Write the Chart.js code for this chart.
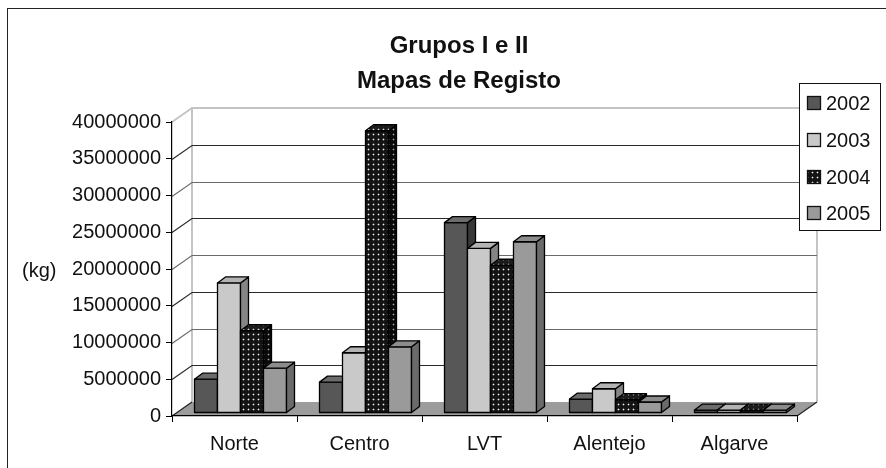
<!DOCTYPE html>
<html>
<head>
<meta charset="utf-8">
<script src="https://cdn.jsdelivr.net/npm/chart.js@4.4.1/dist/chart.umd.min.js"></script>
<style>
  html, body { margin: 0; padding: 0; background: #fff; overflow: hidden; }
  #caixa { width: 886px; height: 468px; position: relative; }
</style>
</head>
<body>
<div id="caixa"><canvas id="grafico" width="886" height="468"></canvas></div>
<script>
const categorias = ['Norte', 'Centro', 'LVT', 'Alentejo', 'Algarve'];
const anos = ['2002', '2003', '2004', '2005'];
const valores2002 = [4600000, 4200000, 25900000, 1900000, 400000];
const valores2003 = [17700000, 8200000, 22400000, 3300000, 400000];
const valores2004 = [11200000, 38400000, 20100000, 1800000, 400000];
const valores2005 = [6100000, 9000000, 23300000, 1500000, 400000];
const ticksY = [0, 5000000, 10000000, 15000000, 20000000, 25000000, 30000000, 35000000, 40000000];
const titulo = ['Grupos I e II', 'Mapas de Registo'];
const unidade = '(kg)';

const fonte = "'Liberation Sans', Arial, sans-serif";
const PX = 20, PY = -14;   // profundidade da parede
const BX = 8, BY = -6;     // profundidade das barras

const ctxBase = document.getElementById('grafico').getContext('2d');

// padrão pontilhado da série 2004
function padraoPontos(fundo, ponto, meio) {
    const c = document.createElement('canvas');
    c.width = 5; c.height = 5;
    const g = c.getContext('2d');
    g.fillStyle = fundo; g.fillRect(0, 0, 5, 5);
    g.fillStyle = meio;
    g.fillRect(1, 2, 3, 1);
    g.fillRect(2, 1, 1, 3);
    g.fillStyle = ponto; g.fillRect(2, 2, 1, 1);
    return ctxBase.createPattern(c, 'repeat');
}

const cores = [
    { frente: '#575757', topo: '#6c6c6c', lado: '#383838' },
    { frente: '#c9c9c9', topo: '#b3b3b3', lado: '#858585' },
    { frente: padraoPontos('#141414', '#f0f0f0', '#5a5a5a'), topo: padraoPontos('#1c1c1c', '#e0e0e0', '#555'), lado: padraoPontos('#0a0a0a', '#a0a0a0', '#3a3a3a') },
    { frente: '#9a9a9a', topo: '#8c8c8c', lado: '#6a6a6a' }
];
const series = [valores2002, valores2003, valores2004, valores2005];

function caixa3d(ctx, x0, x1, yTopo, yBase, c) {
    ctx.lineWidth = 1.3;
    ctx.strokeStyle = '#000';
    ctx.lineJoin = 'round';
    // frente
    ctx.fillStyle = c.frente;
    ctx.beginPath();
    ctx.rect(x0, yTopo, x1 - x0, yBase - yTopo);
    ctx.fill(); ctx.stroke();
    // lado
    ctx.fillStyle = c.lado;
    ctx.beginPath();
    ctx.moveTo(x1, yTopo); ctx.lineTo(x1 + BX, yTopo + BY);
    ctx.lineTo(x1 + BX, yBase + BY); ctx.lineTo(x1, yBase);
    ctx.closePath(); ctx.fill(); ctx.stroke();
    // topo
    ctx.fillStyle = c.topo;
    ctx.beginPath();
    ctx.moveTo(x0, yTopo); ctx.lineTo(x0 + BX, yTopo + BY);
    ctx.lineTo(x1 + BX, yTopo + BY); ctx.lineTo(x1, yTopo);
    ctx.closePath(); ctx.fill(); ctx.stroke();
}

const plugin3d = {
    id: 'efeito3d',
    beforeDraw(chart) {
        const ctx = chart.ctx;
        const a = chart.chartArea;
        const y = chart.scales.y;
        ctx.save();
        // moldura
        ctx.strokeStyle = '#222';
        ctx.lineWidth = 1;
        ctx.strokeRect(7.5, 8.5, 950, 600);
        // título
        ctx.fillStyle = '#111';
        ctx.font = 'bold 24px ' + fonte;
        ctx.textAlign = 'center';
        ctx.textBaseline = 'alphabetic';
        ctx.fillText(titulo[0], 459, 53);
        ctx.fillText(titulo[1], 459, 88);
        // unidade
        ctx.font = '20px ' + fonte;
        ctx.textAlign = 'left';
        ctx.textBaseline = 'middle';
        ctx.fillText(unidade, 22, 271);

        // parede do fundo
        const topo = y.getPixelForValue(ticksY[ticksY.length - 1]);
        const base = y.getPixelForValue(0);
        ctx.strokeStyle = '#c4c4c4';
        ctx.lineWidth = 2;
        ctx.beginPath();
        ctx.moveTo(a.left + PX, base + PY);
        ctx.lineTo(a.left + PX, topo + PY);
        ctx.lineTo(a.right + PX, topo + PY);
        ctx.lineTo(a.right + PX, base + PY);
        ctx.moveTo(a.left, topo);
        ctx.lineTo(a.left + PX, topo + PY);
        ctx.stroke();
        // grelha
        ctx.lineWidth = 1.2;
        ticksY.slice(1, -1).forEach((v, i) => {
            const py = Math.round(y.getPixelForValue(v) + PY) + 0.5;
            ctx.strokeStyle = i % 2 ? '#6a6a6a' : '#2a2a2a';
            ctx.beginPath();
            ctx.moveTo(a.left, py - PY);
            ctx.lineTo(a.left + PX, py);
            ctx.lineTo(a.right + PX, py);
            ctx.stroke();
        });
        // chão
        ctx.fillStyle = '#9c9c9c';
        ctx.strokeStyle = '#222';
        ctx.lineWidth = 1.2;
        ctx.beginPath();
        ctx.moveTo(a.left, base);
        ctx.lineTo(a.left + PX, base + PY);
        ctx.lineTo(a.right + PX, base + PY);
        ctx.lineTo(a.right, base);
        ctx.closePath();
        ctx.fill();
        ctx.beginPath();
        ctx.moveTo(a.left, base);
        ctx.lineTo(a.left + PX, base + PY);
        ctx.moveTo(a.right, base);
        ctx.lineTo(a.right + PX, base + PY);
        ctx.stroke();
        ctx.restore();
    },
    beforeDatasetsDraw(chart) {
        chart.ctx.save();
        chart.ctx.translate(6, -3);
    },
    afterDatasetsDraw(chart) {
        const ctx = chart.ctx;
        // redesenha por categoria, da esquerda para a direita
        categorias.forEach((cat, i) => {
            series.forEach((s, d) => {
                const el = chart.getDatasetMeta(d).data[i];
                const p = el.getProps(['x', 'y', 'base', 'width'], true);
                caixa3d(ctx, p.x - p.width / 2, p.x + p.width / 2, p.y, p.base, cores[d]);
            });
        });
        ctx.restore();
    },
    afterDraw(chart) {
        const ctx = chart.ctx;
        ctx.save();
        // legenda
        ctx.fillStyle = '#fff';
        ctx.strokeStyle = '#111';
        ctx.lineWidth = 1;
        ctx.fillRect(799.5, 83.5, 81, 147);
        ctx.strokeRect(799.5, 83.5, 81, 147);
        const linhas = [103, 140, 177, 213];
        ctx.font = '20px ' + fonte;
        ctx.textAlign = 'left';
        ctx.textBaseline = 'middle';
        anos.forEach((ano, i) => {
            ctx.fillStyle = cores[i].frente;
            ctx.fillRect(807.5, linhas[i] - 6.5, 13, 13);
            ctx.strokeStyle = '#111';
            ctx.lineWidth = 1.3;
            ctx.strokeRect(807.5, linhas[i] - 6.5, 13, 13);
            ctx.fillStyle = '#111';
            ctx.fillText(ano, 826, linhas[i] + 1);
        });
        ctx.restore();
    }
};

new Chart(ctxBase, {
    type: 'bar',
    data: {
        labels: categorias,
        datasets: anos.map((ano, d) => ({
            label: ano,
            data: series[d],
            backgroundColor: d === 2 ? '#151515' : cores[d].frente,
            borderColor: '#000',
            borderWidth: 1,
            categoryPercentage: 0.736,
            barPercentage: 1
        }))
    },
    options: {
        responsive: false,
        animation: false,
        events: [],
        layout: { padding: { left: 0, right: 89, top: 122, bottom: 0 } },
        plugins: {
            legend: { display: false },
            title: { display: false },
            tooltip: { enabled: false }
        },
        scales: {
            x: {
                afterFit: s => { s.height = 52; },
                grid: { drawOnChartArea: false, tickLength: 6, color: '#000', offset: true },
                border: { color: '#000', width: 1.2 },
                ticks: { color: '#111', font: { family: fonte, size: 20 }, padding: 10 }
            },
            y: {
                min: 0,
                max: 40000000,
                afterFit: s => { s.width = 172; },
                afterBuildTicks: s => { s.ticks = ticksY.map(v => ({ value: v })); },
                grid: { drawOnChartArea: false, tickLength: 6, color: '#000' },
                border: { color: '#000', width: 1.2 },
                ticks: {
                    color: '#111',
                    font: { family: fonte, size: 20 },
                    padding: 5,
                    callback: v => String(v)
                }
            }
        }
    },
    plugins: [plugin3d]
});
</script>
</body>
</html>
